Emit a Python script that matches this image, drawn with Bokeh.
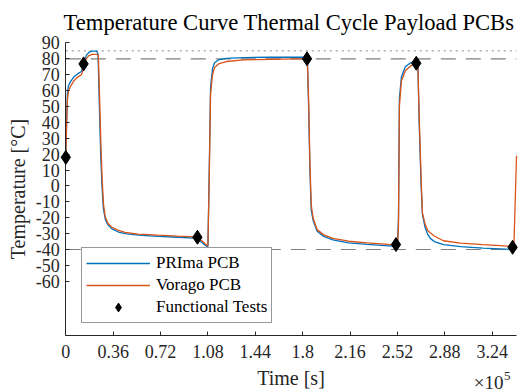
from bokeh.plotting import figure
from bokeh.models import Range1d, FixedTicker, Label, Legend, LegendItem
from bokeh.embed import file_html
from bokeh.resources import INLINE

# time in units of 1e5 s
time_prima = [0.000, 0.006, 0.012, 0.020, 0.035, 0.060, 0.090, 0.118, 0.128, 0.140,
              0.155, 0.175, 0.200, 0.235, 0.245, 0.255, 0.265, 0.275, 0.285, 0.300,
              0.320, 0.350, 0.400, 0.450, 0.550, 0.700, 0.850, 0.980, 1.000, 1.040,
              1.070, 1.080, 1.090, 1.100, 1.115, 1.130, 1.160, 1.220, 1.350, 1.550,
              1.750, 1.835, 1.845, 1.855, 1.865, 1.880, 1.910, 1.960, 2.030, 2.150,
              2.290, 2.450, 2.520, 2.528, 2.535, 2.550, 2.580, 2.620, 2.660, 2.675,
              2.685, 2.700, 2.710, 2.730, 2.750, 2.770, 2.800, 2.870, 3.000, 3.170,
              3.300, 3.395]
temp_prima = [18, 40, 58, 63, 65.5, 68.5, 70.5, 72, 74, 78.5,
              82, 84, 84.8, 84.8, 83, 50, 20, 0, -14, -21,
              -24.5, -27, -29, -30, -31, -31.8, -32.3, -32.8, -33.2, -36,
              -38, -38.2, 10, 62, 74, 77.5, 79.3, 80.3, 80.8, 81,
              81, 81, 50, 10, -15, -22, -28.5, -31.8, -34, -35.8,
              -36.8, -37.7, -38.1, -20, 55, 68.5, 75, 77.5, 78.5, 78,
              40, 0, -18, -26, -30.5, -33, -35, -37, -38.2, -39.2,
              -39.6, -40]

time_vorago = [0.000, 0.006, 0.012, 0.020, 0.035, 0.060, 0.090, 0.118, 0.128, 0.140,
               0.155, 0.175, 0.200, 0.235, 0.247, 0.257, 0.267, 0.277, 0.287, 0.300,
               0.320, 0.350, 0.400, 0.450, 0.550, 0.700, 0.850, 0.980, 1.000, 1.040,
               1.070, 1.080, 1.090, 1.100, 1.115, 1.130, 1.160, 1.220, 1.350, 1.550,
               1.750, 1.835, 1.845, 1.855, 1.865, 1.880, 1.910, 1.960, 2.030, 2.150,
               2.290, 2.450, 2.520, 2.528, 2.535, 2.550, 2.580, 2.620, 2.660, 2.675,
               2.685, 2.700, 2.710, 2.730, 2.750, 2.770, 2.800, 2.870, 3.000, 3.170,
               3.300, 3.395, 3.405, 3.425]
temp_vorago = [18, 38, 54, 59.5, 62.5, 66, 68.5, 70, 72, 76.5,
               80, 82, 82.8, 82.8, 82.5, 55, 25, 3, -12, -19.5,
               -23.5, -26, -28, -29.2, -30.3, -31, -31.6, -32, -32.4, -35,
               -37.2, -37.5, 5, 58, 70, 74.5, 76.8, 78.3, 79.3, 79.7,
               79.9, 80, 55, 15, -12, -20.5, -27.5, -30.8, -33, -34.8,
               -35.8, -36.8, -37.2, -25, 50, 66, 72.5, 75.5, 77, 77,
               45, 5, -17, -24, -28, -29.5, -31.5, -34.5, -36, -37,
               -37.6, -38.2, -38, 19]

test_time = [0.0, 0.135, 1.0, 1.833, 2.509, 2.663, 3.395]
test_temp = [18, 76.8, -32.3, 80, -36.9, 77.2, -38.6]

limit_time = [0.0, 3.425]
limit_dotted = [85, 85]
limit_upper = [80, 80]
limit_lower = [-40, -40]

x_ticks = [0, 0.36, 0.72, 1.08, 1.44, 1.8, 2.16, 2.52, 2.88, 3.24]
x_tick_labels = ["0", "0.36", "0.72", "1.08", "1.44", "1.8", "2.16", "2.52", "2.88", "3.24"]
y_ticks = [90, 80, 70, 60, 50, 40, 30, 20, 10, 0, -10, -20, -30, -40, -50, -60]
y_tick_labels = ["90", "80", "70", "60", "50", "40", "30", "20", "10", "0",
                 "-10", "-20", "-30", "-40", "-50", "-60"]
x_axis_limits = (0.0, 3.425)
y_axis_limits = (-94, 90)

SERIF = "Liberation Serif"
AX = "#262626"

# The frame fills the whole canvas; both axes sit at fixed data locations inside it,
# so the title and the exponent texts are not clipped.
p = figure(width=523, height=392, output_backend="svg", toolbar_location=None,
           x_range=Range1d(-0.4962, 3.478), y_range=Range1d(-130.0, 116.7),
           min_border_left=0, min_border_right=0, min_border_top=0, min_border_bottom=0)
p.outline_line_color = None
p.xgrid.grid_line_color = None
p.ygrid.grid_line_color = None
p.background_fill_color = "white"
p.border_fill_color = "white"

for ax in (p.xaxis[0], p.yaxis[0]):
    ax.axis_line_color = AX
    ax.major_tick_line_color = AX
    ax.major_tick_in = 4
    ax.major_tick_out = 0
    ax.minor_tick_line_color = None
    ax.major_label_text_font = SERIF
    ax.major_label_text_color = AX
    ax.major_label_text_font_size = "18px"
    ax.axis_label_text_font = SERIF
    ax.axis_label_text_font_style = "normal"
    ax.axis_label_text_color = AX
    ax.axis_label_text_font_size = "20px"

p.xaxis.fixed_location = y_axis_limits[0]
p.xaxis.bounds = x_axis_limits
p.xaxis.ticker = FixedTicker(ticks=x_ticks)
p.xaxis.major_label_overrides = dict(zip(x_ticks, x_tick_labels))
p.xaxis.major_label_standoff = 10
p.xaxis.axis_label = "Time [s]"
p.xaxis.axis_label_standoff = 5

p.yaxis.fixed_location = x_axis_limits[0]
p.yaxis.bounds = y_axis_limits
p.yaxis.ticker = FixedTicker(ticks=y_ticks)
p.yaxis.major_label_overrides = dict(zip(y_ticks, y_tick_labels))
p.yaxis.major_label_standoff = 6
p.yaxis.axis_label = "Temperature [°C]"
p.yaxis.axis_label_standoff = 4

p.line(limit_time, limit_dotted, line_color="#808080", line_width=1, line_dash="2 4")
p.line(limit_time, limit_upper, line_color="#808080", line_width=1.2, line_dash="15 10")
p.line(limit_time, limit_lower, line_color="#808080", line_width=1.2, line_dash="15 10")

r_prima = p.line(time_prima, temp_prima, line_color="#0072BD", line_width=1.3)
r_vorago = p.line(time_vorago, temp_vorago, line_color="#D95319", line_width=1.3)
r_tests = p.scatter(test_time, test_temp, marker="diamond", size=14,
                    fill_color="black", line_color="black")
r_tests.level = "overlay"

legend = Legend(items=[LegendItem(label="PRIma PCB", renderers=[r_prima]),
                       LegendItem(label="Vorago PCB", renderers=[r_vorago]),
                       LegendItem(label="Functional Tests", renderers=[r_tests])],
                location=(81, 69))
legend.label_text_font = SERIF
legend.label_text_font_size = "17px"
legend.label_text_color = "black"
legend.glyph_width = 64
legend.glyph_height = 22
legend.label_height = 22
legend.label_standoff = 6
legend.padding = 4
legend.spacing = 0
legend.margin = 0
legend.border_line_color = "#333333"
legend.border_line_width = 1
legend.background_fill_color = "white"
legend.background_fill_alpha = 1
p.add_layout(legend)

title = Label(x=1.696, y=103.0, text="Temperature Curve Thermal Cycle Payload PCBs",
              text_align="center", text_baseline="alphabetic",
              text_font=SERIF, text_font_size="22.6px", text_color="black")
p.add_layout(title)

exp_base = Label(x=3.326, y=-124.0, text="×10", text_align="right", text_baseline="alphabetic",
                 text_font=SERIF, text_font_size="19px", text_color=AX)
exp_pow = Label(x=3.330, y=-119.9, text="5", text_align="left", text_baseline="alphabetic",
                text_font=SERIF, text_font_size="13px", text_color=AX)
p.add_layout(exp_base)
p.add_layout(exp_pow)

open("out.html", "w").write(file_html(p, INLINE))
